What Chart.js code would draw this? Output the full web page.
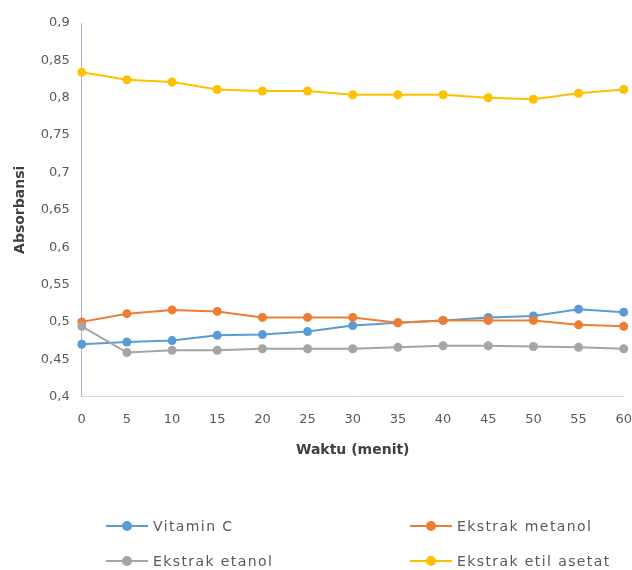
<!DOCTYPE html>
<html>
<head>
<meta charset="utf-8">
<script src="https://cdn.jsdelivr.net/npm/chart.js@4.4.1/dist/chart.umd.min.js"></script>
<style>
    body { margin: 0; background: #fff; }
    #wrap { position: relative; width: 632px; height: 570px; }
    #legend { position: absolute; left: 0; top: 0; width: 632px; height: 570px; pointer-events: none; }
    .leg { position: absolute; font-family: "DejaVu Sans", sans-serif; font-size: 14px; letter-spacing: 1.4px; color: #595959; white-space: nowrap; line-height: 18px; }
    .leg .ln { position: absolute; left: 0; top: 8px; width: 42px; height: 2px; }
    .leg .dot { position: absolute; left: 16px; top: 4px; width: 10px; height: 10px; border-radius: 5px; }
    .leg .txt { position: absolute; left: 47px; top: 0; }
</style>
</head>
<body>
<div id="wrap">
    <canvas id="myChart"></canvas>
    <div id="legend"></div>
</div>
<script>
// data
var waktu = ['0', '5', '10', '15', '20', '25', '30', '35', '40', '45', '50', '55', '60'];
var vitaminC = [0.470, 0.473, 0.475, 0.482, 0.483, 0.487, 0.495, 0.499, 0.502, 0.506, 0.508, 0.517, 0.513];
var ekstrakMetanol = [0.500, 0.511, 0.516, 0.514, 0.506, 0.506, 0.506, 0.499, 0.502, 0.502, 0.502, 0.496, 0.494];
var ekstrakEtanol = [0.494, 0.459, 0.462, 0.462, 0.464, 0.464, 0.464, 0.466, 0.468, 0.468, 0.467, 0.466, 0.464];
var ekstrakEtilAsetat = [0.834, 0.824, 0.821, 0.811, 0.809, 0.809, 0.804, 0.804, 0.804, 0.800, 0.798, 0.806, 0.811];

var seriesNames = ['Vitamin C', 'Ekstrak metanol', 'Ekstrak etanol', 'Ekstrak etil asetat'];
var seriesColors = ['#5B9BD5', '#ED7D31', '#A5A5A5', '#FFC000'];

// legend positions (2 columns)
var legendPos = [[106, 517], [410, 517], [106, 552], [410, 552]];

function makeSet(i, values) {
    return {
        label: seriesNames[i],
        data: values,
        borderColor: seriesColors[i],
        backgroundColor: seriesColors[i],
        borderWidth: 2,
        pointRadius: 4.5,
        pointBorderWidth: 0,
        pointHoverRadius: 4.5,
        tension: 0
    };
}

var ctx = document.getElementById("myChart").getContext('2d');
var myChart = new Chart(ctx, {
    type: 'line',
    data: {
        labels: waktu,
        datasets: [
            makeSet(3, ekstrakEtilAsetat),
            makeSet(2, ekstrakEtanol),
            makeSet(1, ekstrakMetanol),
            makeSet(0, vitaminC)
        ]
    },
    options: {
        responsive: true,
        maintainAspectRatio: false,
        animation: false,
        layout: { padding: { top: 23, right: -4, bottom: 111, left: 12 } },
        plugins: {
            legend: { display: false },
            tooltip: { enabled: false }
        },
        scales: {
            x: {
                offset: false,
                // invisible tick marks just push the labels down
                grid: { display: true, color: 'rgba(0,0,0,0)', drawTicks: true, tickLength: 15 },
                border: { display: true, color: '#D9D9D9', width: 1 },
                ticks: {
                    color: '#595959',
                    font: { family: 'DejaVu Sans', size: 13 },
                    padding: 0,
                    maxRotation: 0,
                    autoSkip: false
                },
                title: {
                    display: true,
                    text: 'Waktu (menit)',
                    color: '#404040',
                    font: { family: 'DejaVu Sans', size: 14, weight: 'bold' },
                    padding: { top: 15, bottom: 0 }
                }
            },
            y: {
                min: 0.4,
                max: 0.9,
                grid: { display: true, color: 'rgba(0,0,0,0)', drawTicks: false },
                border: { display: true, color: '#A5B8D3', width: 1 },
                ticks: {
                    stepSize: 0.05,
                    color: '#595959',
                    font: { family: 'DejaVu Sans', size: 13 },
                    padding: 12,
                    callback: function (value) {
                        return parseFloat(value.toFixed(2)).toString().replace('.', ',');
                    }
                },
                title: {
                    display: true,
                    text: 'Absorbansi',
                    color: '#404040',
                    font: { family: 'DejaVu Sans', size: 14, weight: 'bold' },
                    padding: { top: 0, bottom: 0 }
                }
            }
        }
    }
});

// html legend, two columns like the original
var legendDiv = document.getElementById("legend");
for (var i = 0; i < seriesNames.length; i++) {
    var item = document.createElement("div");
    item.className = "leg";
    item.style.left = legendPos[i][0] + "px";
    item.style.top = legendPos[i][1] + "px";
    item.innerHTML = '<span class="ln" style="background:' + seriesColors[i] + '"></span>' +
        '<span class="dot" style="background:' + seriesColors[i] + '"></span>' +
        '<span class="txt">' + seriesNames[i] + '</span>';
    legendDiv.appendChild(item);
}
</script>
</body>
</html>
